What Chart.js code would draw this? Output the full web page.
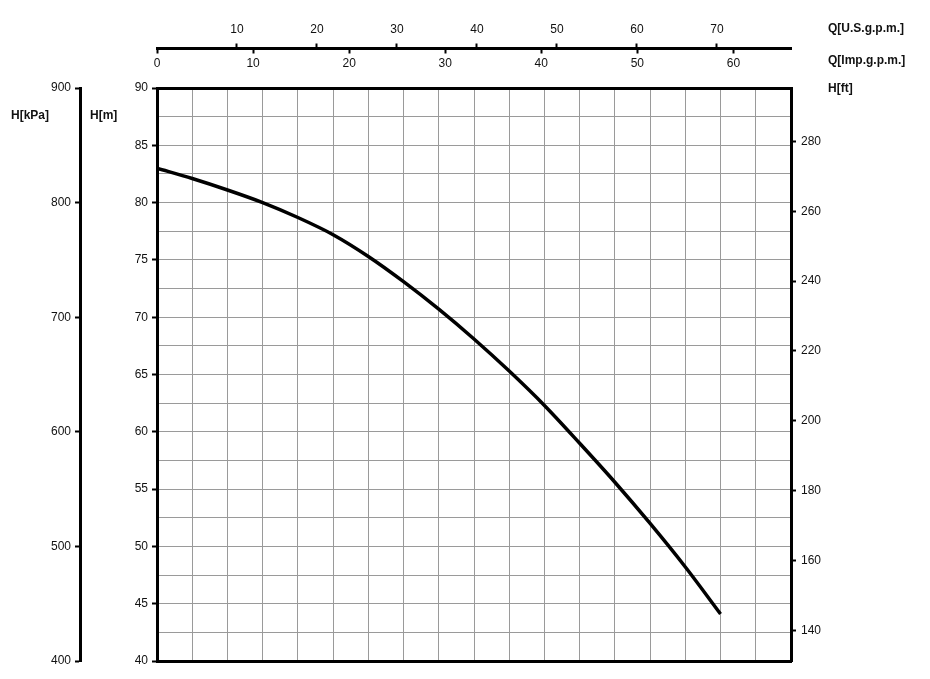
<!DOCTYPE html>
<html>
<head>
<meta charset="utf-8">
<script src="https://cdn.jsdelivr.net/npm/chart.js@4"></script>
<style>
    html, body { margin: 0; padding: 0; background: #fff; }
    #wrap { width: 930px; height: 679px; position: relative; }
</style>
</head>
<body>
<div id="wrap"><canvas id="pumpChart"></canvas></div>
<script>
// Pump curve data: flow in m3/h, head in m
const flowM3h = [0, 1, 2, 3, 4, 5, 6, 7, 8, 9, 10, 11, 12, 13, 14, 15, 16];
const headM = [83.0, 82.1, 81.1, 80.0, 78.7, 77.2, 75.3, 73.1, 70.7, 68.1, 65.3, 62.3, 59.0, 55.6, 52.0, 48.2, 44.1];

// Axis ranges and tick labels
const flowMax = 18;
const headMin = 40;
const headMax = 90;
const usGpmTicks = [0, 10, 20, 30, 40, 50, 60, 70];
const impGpmTicks = [0, 10, 20, 30, 40, 50, 60];
const kPaTicks = [400, 500, 600, 700, 800, 900];
const ftTicks = [140, 160, 180, 200, 220, 240, 260, 280];

// Unit conversions
const M3H_TO_USGPM = 4.4029;
const M3H_TO_IMPGPM = 3.6662;
const M_TO_FT = 3.28084;
const M_TO_KPA = 10;

const FONT = '"Liberation Sans", Arial, sans-serif';
const tickFont = { family: FONT, size: 12 };
const INK = '#111';
const GRID = '#9a9a9a';

function fixedTicks(list) {
    return (scale) => { scale.ticks = list.map(v => ({ value: v })); };
}

// Axis names drawn next to the scales
const axisTitles = {
    id: 'axisTitles',
    afterDraw(chart) {
        const ctx = chart.ctx;
        ctx.save();
        ctx.font = 'bold 12px ' + FONT;
        ctx.fillStyle = INK;
        ctx.textBaseline = 'middle';
        ctx.textAlign = 'left';
        ctx.fillText('H[kPa]', 11, 116);
        ctx.fillText('H[m]', 90, 116);
        ctx.fillText('Q[U.S.g.p.m.]', 828, 29);
        ctx.fillText('Q[Imp.g.p.m.]', 828, 61);
        ctx.fillText('H[ft]', 828, 89);
        ctx.restore();
    }
};

const ctx = document.getElementById('pumpChart').getContext('2d');
new Chart(ctx, {
    type: 'line',
    data: {
        datasets: [{
            data: flowM3h.map((q, i) => ({ x: q, y: headM[i] })),
            borderColor: '#000',
            borderWidth: 3.5,
            pointRadius: 0,
            cubicInterpolationMode: 'monotone',
            xAxisID: 'x',
            yAxisID: 'y'
        }]
    },
    options: {
        responsive: true,
        maintainAspectRatio: false,
        animation: false,
        layout: { padding: 0 },
        plugins: {
            legend: { display: false },
            tooltip: { enabled: false }
        },
        scales: {
            x: {
                type: 'linear',
                position: 'bottom',
                min: 0,
                max: flowMax,
                ticks: { display: false, stepSize: 1 },
                grid: { color: GRID, lineWidth: 1, drawTicks: false },
                border: { display: true, color: '#000', width: 3 },
                afterFit: (s) => { s.height = 18; }
            },
            imp: {
                type: 'linear',
                position: 'top',
                weight: 0,
                min: 0,
                max: flowMax * M3H_TO_IMPGPM,
                afterBuildTicks: fixedTicks(impGpmTicks),
                ticks: { font: tickFont, color: INK, padding: -22.7, maxRotation: 0, autoSkip: false },
                grid: {
                    drawOnChartArea: false,
                    tickLength: 39.5,
                    tickColor: '#000',
                    tickWidth: 2,
                    tickBorderDash: [5, 100]
                },
                border: { display: true, color: '#000', width: 3 },
                afterFit: (s) => { s.height = 39.5; }
            },
            us: {
                type: 'linear',
                position: 'top',
                weight: 1,
                min: 0,
                max: flowMax * M3H_TO_USGPM,
                afterBuildTicks: fixedTicks(usGpmTicks),
                ticks: {
                    font: tickFont, color: INK, padding: 6.3, maxRotation: 0, autoSkip: false,
                    callback: (v) => v === 0 ? '' : v
                },
                grid: {
                    drawOnChartArea: false,
                    tickLength: 5,
                    tickWidth: 2,
                    tickColor: (c) => c.tick && c.tick.value === 0 ? 'rgba(0,0,0,0)' : '#000'
                },
                border: { display: true, color: '#000', width: 3 },
                afterFit: (s) => { s.height = 48.5; }
            },
            y: {
                type: 'linear',
                position: 'left',
                weight: 0,
                min: headMin,
                max: headMax,
                ticks: {
                    stepSize: 2.5,
                    autoSkip: false,
                    font: tickFont,
                    color: INK,
                    padding: 4,
                    callback: (v) => v % 5 === 0 ? v : ''
                },
                grid: {
                    color: GRID,
                    lineWidth: 1,
                    tickLength: 5,
                    tickWidth: 2,
                    tickColor: (c) => c.tick && c.tick.value % 5 === 0 ? '#000' : 'rgba(0,0,0,0)'
                },
                border: { display: true, color: '#000', width: 3 },
                afterFit: (s) => { s.width = 77; }
            },
            kpa: {
                type: 'linear',
                position: 'left',
                weight: 1,
                min: headMin * M_TO_KPA,
                max: headMax * M_TO_KPA,
                afterBuildTicks: fixedTicks(kPaTicks),
                ticks: { font: tickFont, color: INK, padding: 4, autoSkip: false },
                grid: { drawOnChartArea: false, tickLength: 5, tickWidth: 2, tickColor: '#000' },
                border: { display: true, color: '#000', width: 3 },
                afterFit: (s) => { s.width = 80; }
            },
            ft: {
                type: 'linear',
                position: 'right',
                min: headMin * M_TO_FT,
                max: headMax * M_TO_FT,
                afterBuildTicks: fixedTicks(ftTicks),
                ticks: { font: tickFont, color: INK, padding: 5, autoSkip: false },
                grid: { drawOnChartArea: false, tickLength: 5, tickWidth: 2, tickColor: '#000' },
                border: { display: true, color: '#000', width: 3 },
                afterFit: (s) => { s.width = 139; }
            }
        }
    },
    plugins: [axisTitles]
});
</script>
</body>
</html>
